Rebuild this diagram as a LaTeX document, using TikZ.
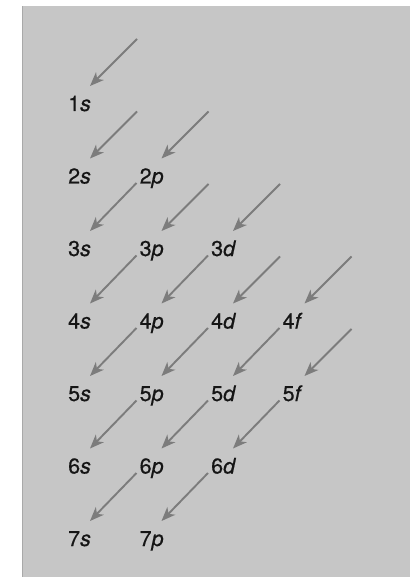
\documentclass[tikz,border=0pt]{standalone}
\usepackage{fontspec}
\setmainfont{TeX Gyre Heros}
\newfontfamily\labfont{TeX Gyre Heros}[FakeBold=0.5]
\usetikzlibrary{arrows.meta,calc}
\definecolor{bg}{HTML}{C6C6C6}
\definecolor{bgedge}{HTML}{A9A9A9}
\definecolor{arrcol}{HTML}{7C7C7C}
\definecolor{txt}{HTML}{151515}
\tikzset{
  lab/.style={anchor=base west, inner sep=0pt, text=txt, font=\labfont\fontsize{21.5}{25}\selectfont},
  arr/.style={draw=arrcol, line width=1.9pt, -{Stealth[length=14pt,width=11pt,inset=4pt]}},
}
\begin{document}
\begin{tikzpicture}[x=1pt,y=1pt]
\useasboundingbox (0,0) rectangle (410,-577);
\fill[bg] (22,-6) rectangle (410,-577);
\draw[bgedge, line width=1.2pt] (22.6,-577) -- (22.6,-6);
% labels
\foreach \c/\r/\n/\l in {0/0/1/s, 0/1/2/s, 1/1/2/p, 0/2/3/s, 1/2/3/p, 2/2/3/d,
  0/3/4/s, 1/3/4/p, 2/3/4/d, 3/3/4/f, 0/4/5/s, 1/4/5/p, 2/4/5/d, 3/4/5/f,
  0/5/6/s, 1/5/6/p, 2/5/6/d, 0/6/7/s, 1/6/7/p}{
  \node[lab] (L\n\l) at (68+71.5*\c, -111-72.5*\r) {\n\textit{\l}};
  \coordinate (T\n\l) at ($(L\n\l.base west)+(22,25)$);
}
% arrows with no source label
\foreach \t in {1s,2s,2p,3p,3d,4d,4f,5f}{
  \coordinate (S\t) at ($(T\t)+(47,47)$);
  \draw[arr] (S\t) -- (T\t);
}
% arrows from one label to the next on the diagonal
\foreach \s/\t in {2p/3s, 3p/4s, 3d/4p, 4p/5s, 4d/5p, 4f/5d, 5p/6s, 5d/6p, 5f/6d, 6p/7s, 6d/7p}{
  \draw[arr] ([xshift=-3pt,yshift=0.5pt]L\s.base west) -- (T\t);
}
\end{tikzpicture}
\end{document}
